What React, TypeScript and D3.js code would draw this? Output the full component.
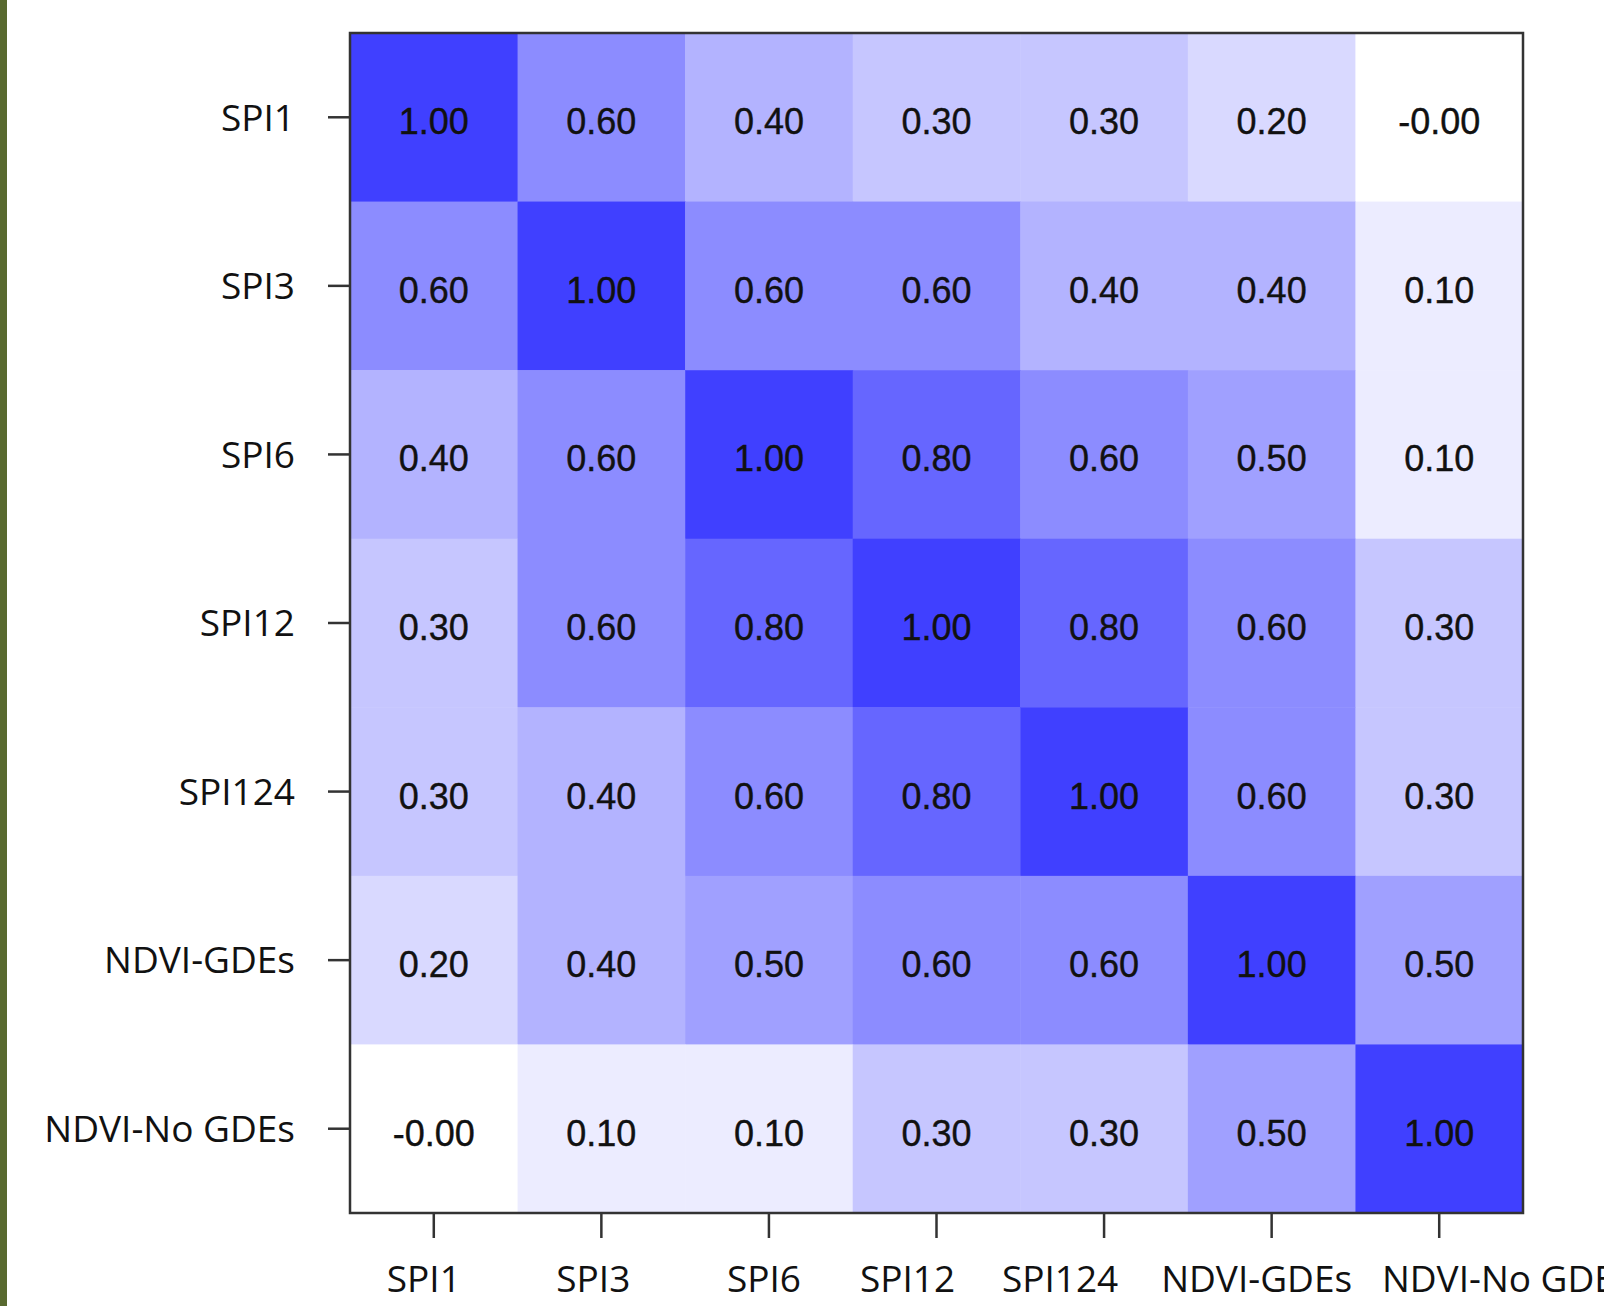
import React, { useEffect, useRef } from 'react';
import * as d3 from 'd3';

const variables = ['SPI1', 'SPI3', 'SPI6', 'SPI12', 'SPI124', 'NDVI-GDEs', 'NDVI-No GDEs'];

const rowSPI1 = [1.0, 0.6, 0.4, 0.3, 0.3, 0.2, -0.001];
const rowSPI3 = [0.6, 1.0, 0.6, 0.6, 0.4, 0.4, 0.1];
const rowSPI6 = [0.4, 0.6, 1.0, 0.8, 0.6, 0.5, 0.1];
const rowSPI12 = [0.3, 0.6, 0.8, 1.0, 0.8, 0.6, 0.3];
const rowSPI124 = [0.3, 0.4, 0.6, 0.8, 1.0, 0.6, 0.3];
const rowNdviGdes = [0.2, 0.4, 0.5, 0.6, 0.6, 1.0, 0.5];
const rowNdviNoGdes = [-0.001, 0.1, 0.1, 0.3, 0.3, 0.5, 1.0];

const matrix = [rowSPI1, rowSPI3, rowSPI6, rowSPI12, rowSPI124, rowNdviGdes, rowNdviNoGdes];

// bottom labels in the source sit a bit off their ticks
const xLabelShift = [-10, -8, -5, -29, -44, -15, 68];

const W = 1604;
const H = 1306;
const box = { left: 350, top: 33, right: 1523, bottom: 1213 };

const App = () => {
  const svgRef = useRef<SVGSVGElement>(null);

  useEffect(() => {
    const svg = d3.select(svgRef.current);
    svg.selectAll('*').remove();

    const x = d3.scaleBand().domain(variables).range([box.left, box.right]);
    const y = d3.scaleBand().domain(variables).range([box.top, box.bottom]);
    const color = d3.scaleLinear<string>().domain([0, 1]).range(['#ffffff', '#4040ff']).clamp(true);

    svg.append('rect').attr('width', W).attr('height', H).attr('fill', '#ffffff');
    svg.append('rect').attr('x', 0).attr('y', 0).attr('width', 7).attr('height', H).attr('fill', '#58692f');

    const cells = matrix.flatMap((row, i) => row.map((v, j) => ({ r: variables[i], c: variables[j], v })));

    const g = svg.append('g');
    g.selectAll('rect.cell')
      .data(cells)
      .enter()
      .append('rect')
      .attr('class', 'cell')
      .attr('x', d => x(d.c)!)
      .attr('y', d => y(d.r)!)
      .attr('width', x.bandwidth() + 0.5)
      .attr('height', y.bandwidth() + 0.5)
      .attr('fill', d => color(d.v));

    g.selectAll('text.val')
      .data(cells)
      .enter()
      .append('text')
      .attr('class', 'val')
      .attr('x', d => x(d.c)! + x.bandwidth() / 2)
      .attr('y', d => y(d.r)! + y.bandwidth() / 2 + 17)
      .attr('text-anchor', 'middle')
      .style('font-family', '"Liberation Sans", Arial, sans-serif')
      .style('font-size', '36px')
      .style('fill', '#111')
      .style('stroke', '#111')
      .style('stroke-width', 0.4)
      .text(d => d.v.toFixed(2));

    // frame
    svg.append('rect')
      .attr('x', box.left)
      .attr('y', box.top)
      .attr('width', box.right - box.left)
      .attr('height', box.bottom - box.top)
      .attr('fill', 'none')
      .attr('stroke', '#333')
      .attr('stroke-width', 2.5);

    // y ticks + labels
    const yAxis = svg.append('g');
    variables.forEach(name => {
      const cy = y(name)! + y.bandwidth() / 2;
      yAxis.append('line')
        .attr('x1', box.left - 22).attr('x2', box.left)
        .attr('y1', cy).attr('y2', cy)
        .attr('stroke', '#333').attr('stroke-width', 2.5);
      yAxis.append('text')
        .attr('x', 295)
        .attr('y', cy)
        .attr('dy', '0.36em')
        .attr('text-anchor', 'end')
        .style('font-family', '"Open Sans", sans-serif')
        .style('font-size', '37px')
        .style('fill', '#111')
        .text(name);
    });

    // x ticks + labels
    const xAxis = svg.append('g');
    variables.forEach((name, i) => {
      const cx = x(name)! + x.bandwidth() / 2;
      xAxis.append('line')
        .attr('x1', cx).attr('x2', cx)
        .attr('y1', box.bottom).attr('y2', box.bottom + 25)
        .attr('stroke', '#333').attr('stroke-width', 2.5);
      xAxis.append('text')
        .attr('x', cx + xLabelShift[i])
        .attr('y', 1292)
        .attr('text-anchor', 'middle')
        .style('font-family', '"Open Sans", sans-serif')
        .style('font-size', '37px')
        .style('fill', '#111')
        .text(name);
    });
  }, []);

  return (
    <svg
      ref={svgRef}
      width={W}
      height={H}
      style={{ position: 'absolute', left: 0, top: 0, display: 'block' }}
    />
  );
};

export default App;
